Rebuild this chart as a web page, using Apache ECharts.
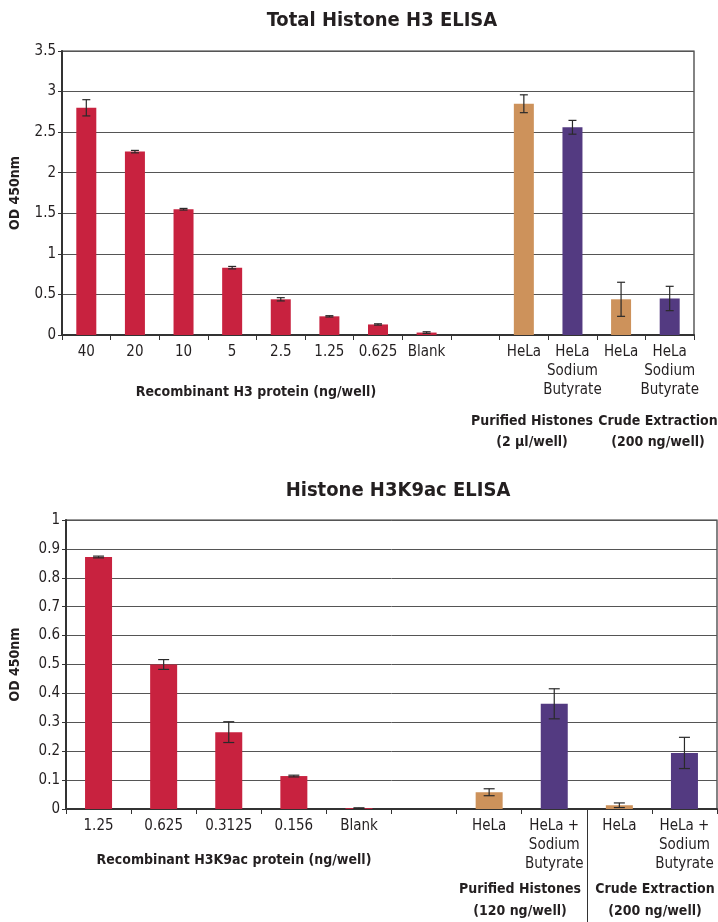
<!DOCTYPE html>
<html><head><meta charset="utf-8">
<script src="https://cdn.jsdelivr.net/npm/echarts@6/dist/echarts.min.js"></script>
<style>html,body{margin:0;padding:0;background:#fff}#c{width:718px;height:922px}</style>
</head><body><div id="c"></div>
<script>
// ---- Data: Total Histone H3 ELISA ----
const h3Categories = ['40','20','10','5','2.5','1.25','0.625','Blank','','HeLa','HeLa\nSodium\nButyrate','HeLa','HeLa\nSodium\nButyrate'];
const h3Values = [2.80, 2.26, 1.55, 0.83, 0.44, 0.23, 0.13, 0.03, null, 2.85, 2.56, 0.44, 0.45];
const h3Errors = [0.10, 0.015, 0.01, 0.015, 0.02, 0.008, 0.008, 0.01, null, 0.11, 0.085, 0.21, 0.15];
const h3Groups = ['rec','rec','rec','rec','rec','rec','rec','rec','none','hela','sb','hela','sb'];
const h3YTicks = [0, 0.5, 1, 1.5, 2, 2.5, 3, 3.5];

// ---- Data: Histone H3K9ac ELISA ----
const k9Categories = ['1.25','0.625','0.3125','0.156','Blank','','HeLa','HeLa +\nSodium\nButyrate','HeLa','HeLa +\nSodium\nButyrate'];
const k9Values = [0.872, 0.500, 0.266, 0.114, 0.003, null, 0.058, 0.364, 0.013, 0.194];
const k9Errors = [0.003, 0.017, 0.036, 0.003, 0.001, null, 0.012, 0.052, 0.008, 0.054];
const k9Groups = ['rec','rec','rec','rec','rec','none','hela','sb','hela','sb'];
const k9YTicks = [0, 0.1, 0.2, 0.3, 0.4, 0.5, 0.6, 0.7, 0.8, 0.9, 1];

const colors = {rec:'#C8223F', hela:'#CD925B', sb:'#533A81', none:'#fff'};
const FONT = '"Liberation Sans Narrow","DejaVu Sans Condensed","Liberation Sans",sans-serif';
const TXT = '#231f20';

function barData(vals, groups){
  return vals.map((v,i)=> v==null ? '-' : {value:v, itemStyle:{color:colors[groups[i]]}});
}
function errData(vals, errs){
  const out=[];
  vals.forEach((v,i)=>{ if(v!=null) out.push([i, v, errs[i]]); });
  return out;
}
function errRender(capHalf){
  return function(params, api){
    const x = api.value(0), v = api.value(1), e = api.value(2);
    const top = api.coord([x, v+e]);
    const bot = api.coord([x, v-e]);
    const st = {stroke:'#2a2a2a', lineWidth:1.2};
    return {type:'group', children:[
      {type:'line', shape:{x1:top[0], y1:top[1], x2:bot[0], y2:bot[1]}, style:st},
      {type:'line', shape:{x1:top[0]-capHalf, y1:top[1], x2:top[0]+capHalf, y2:top[1]}, style:st},
      {type:'line', shape:{x1:bot[0]-capHalf, y1:bot[1], x2:bot[0]+capHalf, y2:bot[1]}, style:st}
    ]};
  };
}

const chart = echarts.init(document.getElementById('c'));
const axisLabelStyle = {color:TXT, fontFamily:FONT, fontSize:15};
const bold = 'bold 14px '+FONT;
chart.setOption({
  animation:false,
  title:[
    {text:'Total Histone H3 ELISA', left:377, top:6, textAlign:'center',
     textStyle:{fontFamily:FONT, fontWeight:'bold', fontSize:20, color:TXT}},
    {text:'Histone H3K9ac ELISA', left:393, top:476, textAlign:'center',
     textStyle:{fontFamily:FONT, fontWeight:'bold', fontSize:20, color:TXT}}
  ],
  grid:[
    {left:62, right:24, top:51, height:284, show:true, borderColor:'#333', borderWidth:1.2},
    {left:66, right:1, top:520, height:289, show:true, borderColor:'#333', borderWidth:1.2}
  ],
  xAxis:[
    {type:'category', gridIndex:0, data:h3Categories,
     axisLine:{lineStyle:{color:'#333', width:2}},
     axisTick:{show:true, length:5, lineStyle:{color:'#333'}},
     axisLabel:Object.assign({interval:0, margin:8, lineHeight:19}, axisLabelStyle)},
    {type:'category', gridIndex:1, data:k9Categories,
     axisLine:{lineStyle:{color:'#333', width:2}},
     axisTick:{show:true, length:5, lineStyle:{color:'#333'}},
     axisLabel:Object.assign({interval:0, margin:8, lineHeight:19}, axisLabelStyle)}
  ],
  yAxis:[
    {type:'value', gridIndex:0, min:h3YTicks[0], max:h3YTicks[h3YTicks.length-1], interval:0.5,
     name:'OD 450nm', nameLocation:'middle', nameGap:40,
     nameTextStyle:{fontFamily:FONT, fontWeight:'bold', fontSize:14, color:TXT},
     axisLine:{show:true, lineStyle:{color:'#333', width:2}},
     axisTick:{show:true, length:4, lineStyle:{color:'#333'}},
     splitLine:{lineStyle:{color:'#555', width:1}},
     axisLabel:Object.assign({margin:6}, axisLabelStyle)},
    {type:'value', gridIndex:1, min:k9YTicks[0], max:k9YTicks[k9YTicks.length-1], interval:0.1,
     name:'OD 450nm', nameLocation:'middle', nameGap:44,
     nameTextStyle:{fontFamily:FONT, fontWeight:'bold', fontSize:14, color:TXT},
     axisLine:{show:true, lineStyle:{color:'#333', width:2}},
     axisTick:{show:true, length:4, lineStyle:{color:'#333'}},
     splitLine:{lineStyle:{color:'#555', width:1}},
     axisLabel:Object.assign({margin:6, formatter:v=>String(+v.toFixed(1))}, axisLabelStyle)}
  ],
  series:[
    {type:'bar', xAxisIndex:0, yAxisIndex:0, barWidth:20, data:barData(h3Values,h3Groups)},
    {type:'custom', xAxisIndex:0, yAxisIndex:0, renderItem:errRender(4), data:errData(h3Values,h3Errors), z:5},
    {type:'bar', xAxisIndex:1, yAxisIndex:1, barWidth:27, data:barData(k9Values,k9Groups)},
    {type:'custom', xAxisIndex:1, yAxisIndex:1, renderItem:errRender(5.5), data:errData(k9Values,k9Errors), z:5}
  ],
  graphic:[
    {type:'text', x:256, y:392, style:{text:'Recombinant H3 protein (ng/well)', align:'center', verticalAlign:'middle', font:bold, fill:TXT}},
    {type:'text', x:532, y:421, style:{text:'Purified Histones', align:'center', verticalAlign:'middle', font:bold, fill:TXT}},
    {type:'text', x:532, y:442, style:{text:'(2 µl/well)', align:'center', verticalAlign:'middle', font:bold, fill:TXT}},
    {type:'text', x:658, y:421, style:{text:'Crude Extraction', align:'center', verticalAlign:'middle', font:bold, fill:TXT}},
    {type:'text', x:658, y:442, style:{text:'(200 ng/well)', align:'center', verticalAlign:'middle', font:bold, fill:TXT}},
    {type:'text', x:234, y:860, style:{text:'Recombinant H3K9ac protein (ng/well)', align:'center', verticalAlign:'middle', font:bold, fill:TXT}},
    {type:'text', x:520, y:889, style:{text:'Purified Histones', align:'center', verticalAlign:'middle', font:bold, fill:TXT}},
    {type:'text', x:520, y:911, style:{text:'(120 ng/well)', align:'center', verticalAlign:'middle', font:bold, fill:TXT}},
    {type:'text', x:655, y:889, style:{text:'Crude Extraction', align:'center', verticalAlign:'middle', font:bold, fill:TXT}},
    {type:'text', x:655, y:911, style:{text:'(200 ng/well)', align:'center', verticalAlign:'middle', font:bold, fill:TXT}},
    {type:'line', shape:{x1:587.5, y1:809, x2:587.5, y2:922}, style:{stroke:'#333', lineWidth:1}}
  ]
});
</script></body></html>
